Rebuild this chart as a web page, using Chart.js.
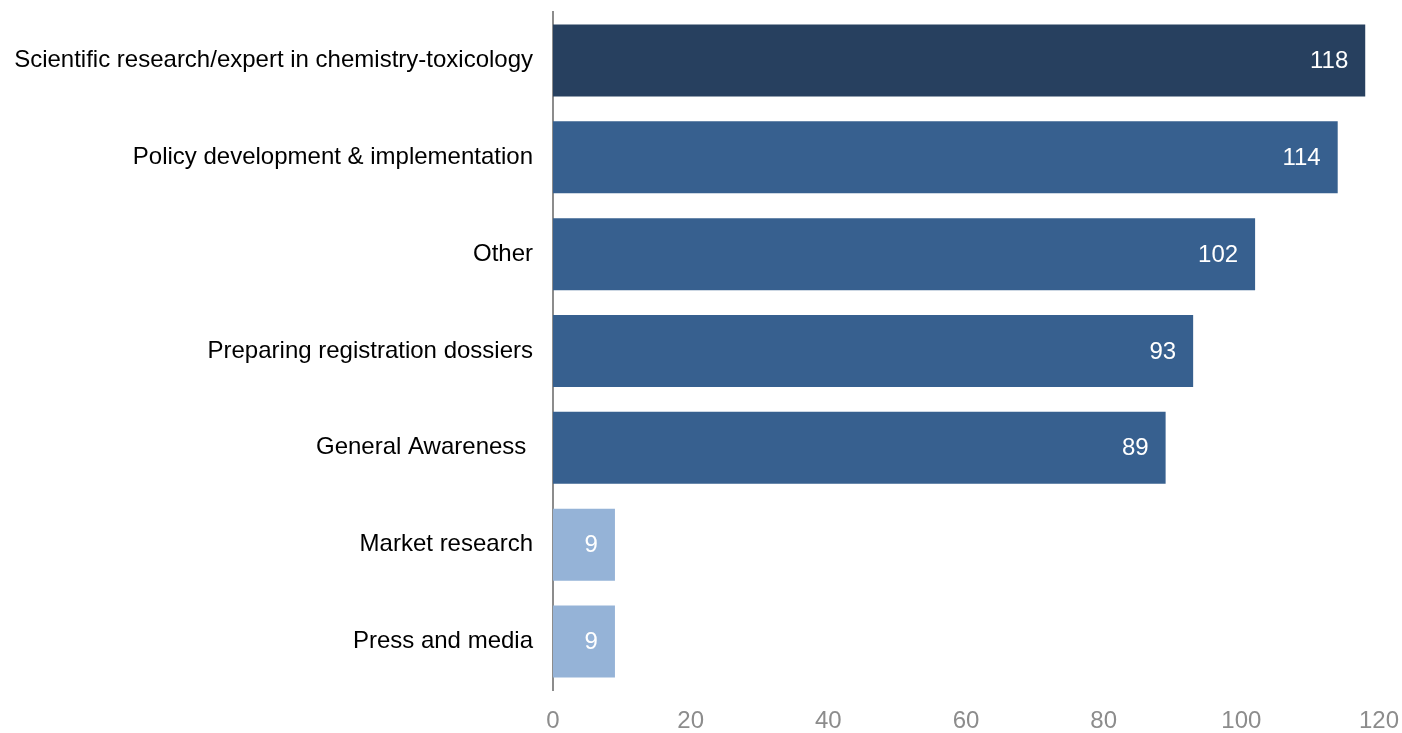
<!DOCTYPE html>
<html>
<head>
<meta charset="utf-8">
<script src="https://cdn.jsdelivr.net/npm/chart.js@4"></script>
<style>
    html, body { margin: 0; padding: 0; background: #ffffff; }
    #wrap { width: 1402px; height: 733px; }
</style>
</head>
<body>
<div id="wrap"><canvas id="barChart" width="1402" height="733"></canvas></div>
<script>
// Chart data
const categories = [
    'Scientific research/expert in chemistry-toxicology',
    'Policy development & implementation',
    'Other',
    'Preparing registration dossiers',
    'General Awareness ',
    'Market research',
    'Press and media'
];
const counts = [118, 114, 102, 93, 89, 9, 9];
const barColors = ['#27405f', '#37608f', '#37608f', '#37608f', '#37608f', '#95b3d7', '#95b3d7'];
const xTicks = [0, 20, 40, 60, 80, 100, 120];

// Draw value labels inside the bar ends
const valueLabels = {
    id: 'valueLabels',
    afterDatasetsDraw(chart) {
        const ctx = chart.ctx;
        const meta = chart.getDatasetMeta(0);
        ctx.save();
        ctx.font = '24px "Liberation Sans", Arial, sans-serif';
        ctx.fillStyle = '#ffffff';
        ctx.textAlign = 'right';
        ctx.textBaseline = 'middle';
        meta.data.forEach((bar, i) => {
            ctx.fillText(String(counts[i]), bar.x - 17, bar.y + 1);
        });
        ctx.restore();
    }
};

Chart.defaults.font.family = '"Liberation Sans", Arial, sans-serif';

new Chart(document.getElementById('barChart').getContext('2d'), {
    type: 'bar',
    data: {
        labels: categories,
        datasets: [{
            data: counts,
            backgroundColor: barColors,
            borderWidth: 0,
            categoryPercentage: 1,
            barPercentage: 0.743
        }]
    },
    options: {
        indexAxis: 'y',
        responsive: false,
        animation: false,
        layout: { padding: { top: 12, right: 23, left: 0, bottom: 0 } },
        plugins: {
            legend: { display: false },
            tooltip: { enabled: false }
        },
        scales: {
            x: {
                min: 0,
                max: 120,
                afterBuildTicks: (scale) => {
                    scale.ticks = xTicks.map(v => ({ value: v }));
                },
                grid: { display: false, drawTicks: false },
                border: { display: false },
                ticks: {
                    color: '#8c8c8c',
                    font: { size: 24 },
                    padding: 17,
                    maxRotation: 0
                },
                afterFit: (scale) => {
                    scale.height = 43;
                    scale.paddingLeft = 0;
                    scale.paddingRight = 0;
                }
            },
            y: {
                grid: { display: false, drawTicks: false },
                border: { display: true, color: '#8c8c8c', width: 2 },
                ticks: {
                    color: '#000000',
                    font: { size: 24 },
                    padding: 20
                },
                afterFit: (scale) => {
                    scale.width = 553;
                    scale.paddingTop = 0;
                    scale.paddingBottom = 0;
                }
            }
        }
    },
    plugins: [valueLabels]
});
</script>
</body>
</html>
